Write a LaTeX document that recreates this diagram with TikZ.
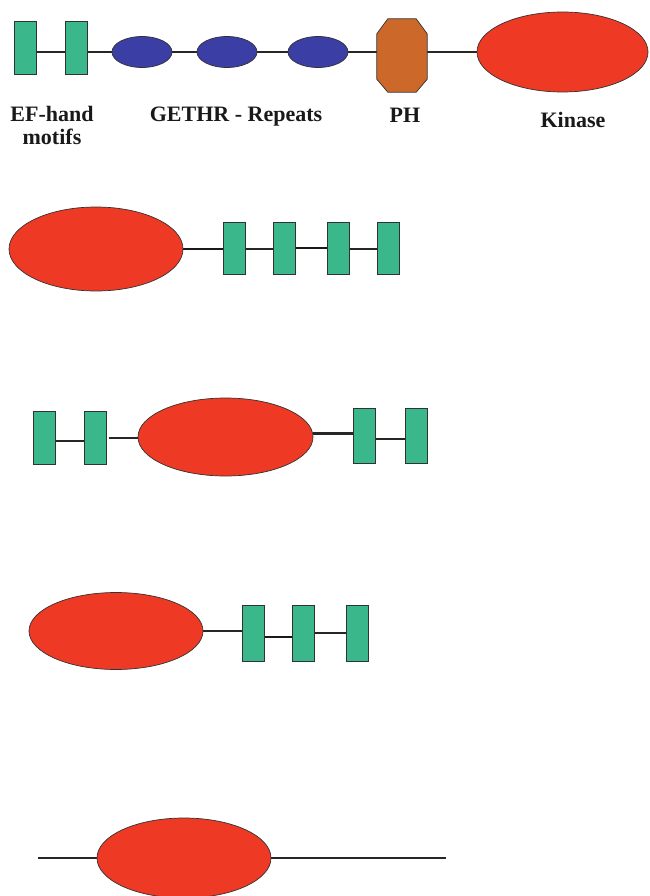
\documentclass[tikz,border=0pt]{standalone}
\usepackage{fontspec}
\setmainfont{Liberation Serif}
\usetikzlibrary{shapes.geometric,backgrounds}
\definecolor{efgreen}{RGB}{58,184,140}
\definecolor{gethrblue}{RGB}{58,62,165}
\definecolor{phorange}{RGB}{204,104,42}
\definecolor{kinred}{RGB}{238,58,36}
\definecolor{outline}{RGB}{50,50,50}
\begin{document}
\begin{tikzpicture}[x=1pt,y=-1pt,
  efbox/.style={draw=outline, line width=0.7pt, fill=efgreen, inner sep=0pt,
    minimum width=22pt, minimum height=53pt},
  gethr/.style={ellipse, draw=outline, line width=0.7pt, fill=gethrblue, inner sep=0pt,
    minimum width=60pt, minimum height=31pt},
  phframe/.style={rectangle, inner sep=0pt, minimum width=50pt, minimum height=73pt},
  phshape/.style={draw=outline, line width=0.7pt, fill=phorange},
  kinase/.style={ellipse, draw=outline, line width=0.7pt, fill=kinred, inner sep=0pt,
    minimum width=174pt, minimum height=80pt},
  link/.style={draw=black!85, line width=2.1pt},
  thicklink/.style={draw=black!90, line width=2.7pt},
  lbl/.style={font=\fontsize{22}{26}\selectfont\bfseries, inner sep=0pt, anchor=base, text=black!90}]
\useasboundingbox (0,0) rectangle (649,896);

% ---- full-length domain structure ----
\node[efbox] (a1) at (25.5,47.5) {};
\node[efbox] (a2) at (76,47.5) {};
\node[gethr] (g1) at (142,52) {};
\node[gethr] (g2) at (227,52) {};
\node[gethr] (g3) at (318,52) {};
\node[phframe] (ph) at (402,55.5) {};
\filldraw[phshape]
  ([xshift=11pt]ph.north west) -- ([xshift=-11pt]ph.north east)
  -- ([yshift=-15pt]ph.north east) -- ([yshift=13pt]ph.south east)
  -- ([xshift=-11pt]ph.south east) -- ([xshift=11pt]ph.south west)
  -- ([yshift=13pt]ph.south west) -- ([yshift=-15pt]ph.north west) -- cycle;
\node[kinase, minimum width=171pt] (k1) at (562.5,52) {};

\node[lbl] (lef1) at (52,122) {EF-hand};
\node[lbl] (lef2) at (52,145) {motifs};
\node[lbl] (lg) at (236,122) {GETHR - Repeats};
\node[lbl] (lph) at (405,123) {PH};
\node[lbl] (lk) at (573,128) {Kinase};

% ---- kinase followed by four EF-hands ----
\node[kinase, minimum height=84pt] (k2) at (96,249) {};
\node[efbox, minimum height=52pt] (b1) at (234,248) {};
\node[efbox, minimum height=52pt] (b2) at (284.5,248) {};
\node[efbox, minimum height=52pt] (b3) at (338.5,248) {};
\node[efbox, minimum height=52pt] (b4) at (388.5,248) {};

% ---- EF-hands flanking the kinase ----
\node[efbox] (c1) at (44,437.5) {};
\node[efbox] (c2) at (95.5,437.5) {};
\node[kinase, minimum width=175pt, minimum height=78pt] (k3) at (225.5,437) {};
\node[efbox, minimum height=55pt] (c3) at (364,435.5) {};
\node[efbox, minimum height=55pt] (c4) at (416,435.5) {};
\coordinate (c2gap) at (109,438);

% ---- kinase followed by three EF-hands ----
\node[kinase, minimum height=77pt] (k4) at (116,631) {};
\node[efbox, minimum height=56pt] (d1) at (253.5,633) {};
\node[efbox, minimum height=56pt] (d2) at (303.5,633) {};
\node[efbox, minimum height=56pt] (d3) at (357,633) {};

% ---- kinase alone ----
\coordinate (l5) at (38,858);
\coordinate (r5) at (446,858);
\node[kinase] (k5) at (184,858) {};

% ---- linkers ----
\begin{scope}[on background layer]
  \draw[link] (a1.east |- g1) -- (a2.west |- g1);
  \draw[link] (a2.east |- g1) -- (g1);
  \draw[link] (g1) -- (g2);
  \draw[link] (g2) -- (g3);
  \draw[link] (g3.east) -- (g3.east -| ph.west);
  \draw[link] (ph.east |- k1) -- (k1.west);

  \draw[thicklink] (k2.east) -- (k2.east -| b1.west);
  \draw[link] ([yshift=-1pt]b1.east) -- ([yshift=-1pt]b2.west);
  \draw[thicklink] (b2) -- (b3);
  \draw[link] ([yshift=-1pt]b3.east) -- ([yshift=-1pt]b4.west);

  \draw[link] ([yshift=-3.5pt]c1.east) -- ([yshift=-3.5pt]c2.west);
  \draw[link] (c2gap) -- (c2gap -| k3.west);
  \draw[link] ([yshift=3.5pt]k3.east) -- ([yshift=3.5pt]k3.east -| c3.west);
  \draw[link] ([yshift=-3.5pt]c3.east) -- ([yshift=-3.5pt]c4.west);

  \draw[link] (k4.east) -- (k4.east -| d1.west);
  \draw[thicklink] ([yshift=-4pt]d1.east) -- ([yshift=-4pt]d2.west);
  \draw[link] (d2) -- (d3);

  \draw[link] (l5) -- (k5);
  \draw[link] (k5) -- (r5);
\end{scope}
\end{tikzpicture}
\end{document}
